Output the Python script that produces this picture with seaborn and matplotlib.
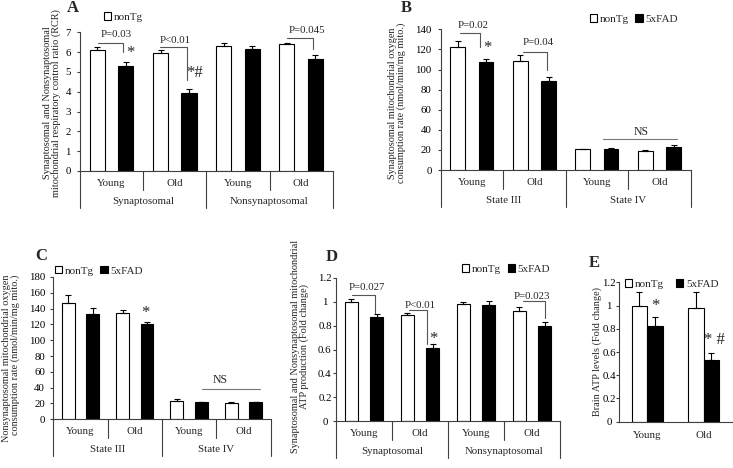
import numpy as np
import pandas as pd
import matplotlib
matplotlib.use("Agg")
import matplotlib.pyplot as plt
import seaborn as sns

# ---------------- data ----------------
genotypes = ["nonTg", "5xFAD"]
ages = ["Young", "Old"]

# Panel A: respiratory control ratio
a_groups = ["Synaptosomal", "Nonsynaptosomal"]
a_nontg = [6.11, 5.94, 6.30, 6.43]
a_nontg_err = [0.17, 0.17, 0.15, 0.05]
a_fad = [5.30, 3.92, 6.16, 5.66]
a_fad_err = [0.22, 0.20, 0.17, 0.20]

# Panel B: synaptosomal oxygen consumption
b_groups = ["State III", "State IV"]
b_nontg = [122.8, 108.5, 20.6, 18.9]
b_nontg_err = [5.9, 5.6, 0.6, 0.7]
b_fad = [107.8, 88.6, 20.9, 23.2]
b_fad_err = [2.7, 3.6, 0.7, 1.7]

# Panel C: nonsynaptosomal oxygen consumption
c_groups = ["State III", "State IV"]
c_nontg = [146.7, 134.9, 23.6, 21.1]
c_nontg_err = [10.3, 3.8, 2.1, 0.4]
c_fad = [132.8, 120.2, 21.5, 21.5]
c_fad_err = [8.4, 3.3, 0.8, 0.8]

# Panel D: mitochondrial ATP production (fold change)
d_groups = ["Synaptosomal", "Nonsynaptosomal"]
d_nontg = [1.00, 0.885, 0.98, 0.919]
d_nontg_err = [0.022, 0.020, 0.020, 0.033]
d_fad = [0.869, 0.610, 0.972, 0.796]
d_fad_err = [0.030, 0.033, 0.036, 0.036]

# Panel E: brain ATP levels (fold change)
e_nontg = [1.00, 0.979]
e_nontg_err = [0.12, 0.14]
e_fad = [0.824, 0.528]
e_fad_err = [0.076, 0.061]

# ---------------- style ----------------
sns.set_theme(style="white")
plt.rcParams["font.family"] = ["Liberation Serif", "DejaVu Serif"]
FS = 7.8      # tick / category / annotation text
LFS = 7.4     # axis titles
GFS = 8.0     # legend text
plt.rcParams["font.size"] = FS
PAL = {"nonTg": "white", "5xFAD": "black"}
AXC = "#404040"
BRC = "#555555"

FIG_W, FIG_H = 733, 468
fig = plt.figure(figsize=(FIG_W / 100, FIG_H / 100), dpi=100)


def make_ax(l, r, t, b):
    return fig.add_axes([l / FIG_W, 1 - b / FIG_H, (r - l) / FIG_W, (b - t) / FIG_H])


def draw_bars(ax, conds, nontg, nontg_err, fad, fad_err, width=0.9, gap=0.47):
    n = len(conds)
    df = pd.DataFrame({
        "cond": conds * 2,
        "geno": ["nonTg"] * n + ["5xFAD"] * n,
        "value": list(nontg) + list(fad),
    })
    sns.barplot(data=df, x="cond", y="value", hue="geno", order=conds,
                hue_order=genotypes, palette=PAL, edgecolor="black",
                linewidth=0.8, width=width, gap=gap, errorbar=None,
                legend=False, saturation=1, ax=ax)
    for cont, e in zip(ax.containers, [nontg_err, fad_err]):
        xs = [p.get_x() + p.get_width() / 2 for p in cont]
        ys = [p.get_height() for p in cont]
        ax.errorbar(xs, ys, yerr=[np.zeros(len(e)), e], fmt="none",
                    ecolor="black", elinewidth=0.8, capsize=2.2,
                    capthick=0.8, zorder=3)


def style_ax(ax, ylim, yticks, ylabel, lab_x, lab_y, multialign="center",
             linespacing=0.95, pad=4.3, center_labels=False):
    ax.set_ylim(*ylim)
    ax.set_yticks(yticks)
    ax.yaxis.set_major_formatter(matplotlib.ticker.FuncFormatter(lambda v, p: "%g" % round(v, 2)))
    ax.set_xlabel("")
    ax.set_ylabel(ylabel, fontsize=LFS, va="center", linespacing=linespacing,
                  multialignment=multialign)
    ax.yaxis.set_label_coords(lab_x, lab_y)
    for s in ["top", "right"]:
        ax.spines[s].set_visible(False)
    for s in ["left", "bottom"]:
        ax.spines[s].set_color(AXC)
        ax.spines[s].set_linewidth(0.8)
    ax.tick_params(axis="y", left=True, direction="out", length=2.2, width=0.8,
                   color=AXC, pad=pad, labelsize=FS, labelcolor="black")
    if center_labels:
        for t in ax.get_yticklabels():
            t.set_horizontalalignment("center")
    ax.tick_params(axis="x", bottom=False, labelbottom=False)


def hier_axis(ax, inner, outer=None, d_in=18.5, d_out=37, y_in=12.7, y_out=30.5):
    h = ax.get_position().height * FIG_H
    trans = ax.get_xaxis_transform()
    n = len(inner)
    ax.set_xlim(-0.5, n - 0.5)
    if outer is not None:
        for i in range(n + 1):
            d = d_out if i % 2 == 0 else d_in
            ax.plot([i - 0.5, i - 0.5], [0, -d / h], transform=trans,
                    clip_on=False, color=AXC, lw=0.8)
    for i, lab in enumerate(inner):
        ax.annotate(lab, (i, 0), xycoords=trans, xytext=(0, -y_in),
                    textcoords="offset pixels", ha="center", va="center",
                    fontsize=FS)
    if outer is not None:
        for j, lab in enumerate(outer):
            ax.annotate(lab, (2 * j + 0.5, 0), xycoords=trans,
                        xytext=(0, -y_out), textcoords="offset pixels",
                        ha="center", va="center", fontsize=FS)


def bracket(ax, x0, x1, y, ydown, text, tx, ty):
    ax.plot([x0, x1, x1], [y, y, ydown], color=BRC, lw=0.8, clip_on=False)
    ax.text(tx, ty, text, ha="center", va="center", fontsize=FS)


def star(ax, x, y, s="*"):
    ax.text(x, y, s, ha="center", va="center", fontsize=12)


def legend(ax, x_px, y_px, handles_n=2, colsp=0.6):
    hs = ax.containers[:handles_n]
    ax.legend(hs, genotypes[:handles_n], loc="center left",
              bbox_to_anchor=(x_px / FIG_W, 1 - y_px / FIG_H),
              bbox_transform=fig.transFigure, frameon=False, ncol=2,
              handlelength=0.65, handleheight=0.65, handletextpad=0.25,
              columnspacing=colsp, borderpad=0, borderaxespad=0, fontsize=GFS)


def letter(x_px, y_px, s):
    fig.text(x_px / FIG_W, 1 - y_px / FIG_H, s, ha="center", va="center",
             fontsize=12, fontweight="bold")


def conds_for(groups):
    return [g + " " + a for g in groups for a in ages]


# ---------------- Panel A ----------------
axA = make_ax(80, 332.7, 32.3, 171)
draw_bars(axA, conds_for(a_groups), a_nontg, a_nontg_err, a_fad, a_fad_err)
style_ax(axA, (0, 7), np.arange(0, 8, 1),
         "Synaptosomal and Nonsynaptosomal\nmitochondrial respiratory control ratio (RCR)",
         -0.111, 0.49)
hier_axis(axA, ages * 2, a_groups)
bracket(axA, -0.215, 0.18, 6.48, 6.0, "P=0.03", 0.08, 6.87)
star(axA, 0.30, 5.96)
bracket(axA, 1 - 0.234, 1.2, 6.27, 4.6, "P<0.01", 1.0, 6.61)
star(axA, 1.32, 4.96, "*#")
bracket(axA, 3 - 0.22, 3.19, 6.73, 6.16, "P=0.045", 3.09, 7.07)
legend(axA, 103.5, 17, handles_n=1)
letter(72.5, 8.3, "A")

# ---------------- Panel B ----------------
axB = make_ax(440.7, 690.7, 29.3, 170)
draw_bars(axB, conds_for(b_groups), b_nontg, b_nontg_err, b_fad, b_fad_err)
style_ax(axB, (0, 140), np.arange(0, 141, 20),
         "Synaptosomal mitochondrial oxygen\nconsumption rate (nmol/min/mg mito.)",
         -0.176, 0.476)
hier_axis(axB, ages * 2, b_groups)
bracket(axB, -0.19, 0.128, 136, 122.7, "P=0.02", 0.016, 143.3)
star(axB, 0.25, 121)
bracket(axB, 1 - 0.184, 1.195, 117.7, 99.5, "P=0.04", 1.06, 126.7)
axB.plot([2.1, 3.275], [30.5, 30.5], color="#777777", lw=0.8)
axB.text(2.7, 38.1, "NS", ha="center", va="center", fontsize=FS + 0.7)
legend(axB, 589.5, 19)
letter(406.7, 8.3, "B")

# ---------------- Panel C ----------------
axC = make_ax(53.3, 270.6, 277, 419.3)
draw_bars(axC, conds_for(c_groups), c_nontg, c_nontg_err, c_fad, c_fad_err)
style_ax(axC, (0, 180), np.arange(0, 181, 20),
         "Nonsynaptosomal mitochondrial oxygen\nconsumption rate (nmol/min/mg mito.)",
         -0.196, 0.427, multialign="right", pad=3.8)
hier_axis(axC, ages * 2, c_groups)
star(axC, 1.19, 134)
axC.plot([2.23, 3.3], [38, 38], color="#777777", lw=0.8, clip_on=False)
axC.text(2.57, 50, "NS", ha="center", va="center", fontsize=FS + 0.7)
legend(axC, 54.5, 270.7)
letter(40.8, 255.8, "C")

# ---------------- Panel D ----------------
axD = make_ax(336, 560, 277.7, 421.3)
draw_bars(axD, conds_for(d_groups), d_nontg, d_nontg_err, d_fad, d_fad_err)
style_ax(axD, (0, 1.2), np.round(np.arange(0, 1.21, 0.2), 1),
         "Synaptosomal and Nonsynaptosomal mitochondrial\nATP production (Fold change)",
         -0.161, 0.524, pad=5.8, center_labels=True)
hier_axis(axD, ages * 2, d_groups)
bracket(axD, -0.21, 0.2, 1.055, 0.907, "P=0.027", 0.05, 1.12)
bracket(axD, 1 - 0.2, 1.13, 0.93, 0.65, "P<0.01", 1.0, 0.97)
star(axD, 1.24, 0.69)
bracket(axD, 3 - 0.155, 3.23, 1.0075, 0.86, "P=0.023", 3.0, 1.045)
legend(axD, 462, 269)
letter(332, 256.7, "D")

# ---------------- Panel E ----------------
axE = make_ax(619, 731.7, 282.3, 421.7)
draw_bars(axE, ages, e_nontg, e_nontg_err, e_fad, e_fad_err, width=0.556, gap=0)
style_ax(axE, (0, 1.2), np.round(np.arange(0, 1.21, 0.2), 1),
         "Brain ATP levels (Fold change)", -0.19, 0.507, pad=5.0,
         center_labels=True)
hier_axis(axE, ages, None, y_in=13.3)
star(axE, 0.137, 1.0)
star(axE, 1.19, 0.70, "* #")
legend(axE, 624.5, 284, colsp=1.1)
letter(594.3, 262.8, "E")

fig.savefig("out.png", dpi=100)
